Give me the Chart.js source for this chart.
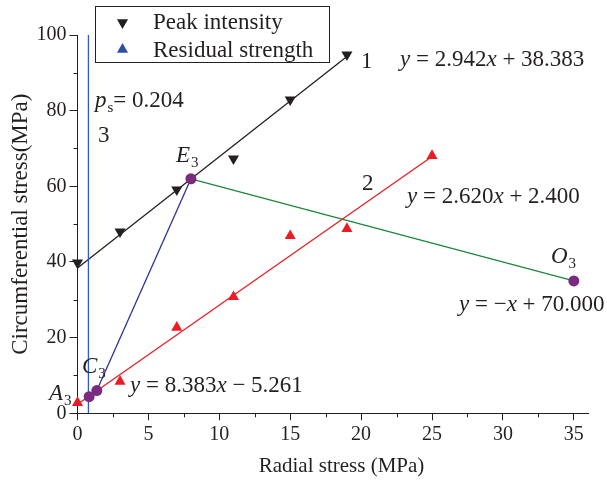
<!DOCTYPE html>
<html>
<head>
<meta charset="utf-8">
<script src="https://cdn.jsdelivr.net/npm/chart.js@4.4.0/dist/chart.umd.min.js"></script>
<style>
  html, body { margin: 0; padding: 0; background: #fff; }
  #wrap { width: 607px; height: 481px; }
</style>
</head>
<body>
<div id="wrap"><canvas id="chart" width="607" height="481"></canvas></div>
<script>
// ── data ──────────────────────────────────────────────────
const peakX = [0, 3, 7, 11, 15, 19];
const peakY = [39.8, 48.0, 59.1, 67.3, 82.9, 94.8];

const resX = [0, 3, 7, 11, 15, 19, 25];
const resY = [2.8, 8.4, 22.7, 30.8, 46.9, 48.8, 68.1];

const keyNames = ['A3', 'C3', 'E3', 'O3'];
const keyX = [0.82, 1.36, 8.0, 35.0];
const keyY = [4.4, 6.0, 62.0, 35.0];

// fitted / construction lines (end points)
const line1X = [0, 19],    line1Y = [38.4, 94.3];   // y = 2.942x + 38.383
const line2X = [0, 25],    line2Y = [2.4, 67.9];    // y = 2.620x + 2.400
const line3X = [1.36, 8],  line3Y = [6.0, 62.0];    // y = 8.383x - 5.261
const line4X = [8, 35],    line4Y = [62.0, 35.0];   // y = -x + 70.000
const psX = [0.77, 0.77],  psY = [0, 100];          // p_s = 0.204

const xTicks = [0, 5, 10, 15, 20, 25, 30, 35];
const xMinor = [2.5, 7.5, 12.5, 17.5, 22.5, 27.5, 32.5];
const yTicks = [0, 20, 40, 60, 80, 100];
const yMinor = [10, 30, 50, 70, 90];

const pts = (xs, ys) => xs.map((x, i) => ({ x, y: ys[i] }));

const INK = '#231f20';
const RED = '#ed1c24';
const PURPLE = '#7b2a82';
const SERIF = '"Liberation Serif", "Times New Roman", serif';

// ── text annotations (pixel anchors: left, baseline) ─────
const notes = [
  { x: 95,  y: 107, parts: [['p', 'i'], ['s', 'sub'], ['= 0.204', 'r']] },
  { x: 98,  y: 142, parts: [['3', 'r']] },
  { x: 176, y: 162, parts: [['E', 'i'], ['3', 'sub']] },
  { x: 361, y: 68,  parts: [['1', 'r']] },
  { x: 400, y: 66,  parts: [['y', 'i'], [' = 2.942', 'r'], ['x', 'i'], [' + 38.383', 'r']] },
  { x: 362, y: 190, parts: [['2', 'r']] },
  { x: 407, y: 203, parts: [['y', 'i'], [' = 2.620', 'r'], ['x', 'i'], [' + 2.400', 'r']] },
  { x: 551, y: 263, parts: [['O', 'i'], ['3', 'sub']] },
  { x: 459, y: 311, parts: [['y', 'i'], [' = \u2212', 'r'], ['x', 'i'], [' + 70.000', 'r']] },
  { x: 82,  y: 373, parts: [['C', 'i'], ['3', 'sub']] },
  { x: 49,  y: 400, parts: [['A', 'i'], ['3', 'sub']] },
  { x: 130, y: 392, parts: [['y', 'i'], [' = 8.383', 'r'], ['x', 'i'], [' \u2212 5.261', 'r']] },
];

function richText(ctx, x, y, parts) {
  parts.forEach(([t, k]) => {
    if (k === 'sub') {
      ctx.font = '15px ' + SERIF;
      ctx.fillText(t, x + 1, y + 5);
      x += ctx.measureText(t).width + 1;
    } else {
      ctx.font = (k === 'i' ? 'italic ' : '') + '23px ' + SERIF;
      ctx.fillText(t, x, y);
      x += ctx.measureText(t).width;
    }
  });
}

function triangle(ctx, x, y, r, down, color) {
  const s = down ? -1 : 1;
  ctx.beginPath();
  ctx.moveTo(x, y - s * r);
  ctx.lineTo(x + r * 0.866, y + s * r * 0.5);
  ctx.lineTo(x - r * 0.866, y + s * r * 0.5);
  ctx.closePath();
  ctx.fillStyle = color;
  ctx.fill();
}

const extras = {
  id: 'extras',
  afterDraw(chart) {
    const ctx = chart.ctx;
    const xs = chart.scales.x, ys = chart.scales.y;
    ctx.save();
    // minor ticks
    ctx.strokeStyle = INK;
    ctx.lineWidth = 1;
    ctx.beginPath();
    xMinor.forEach(v => {
      const px = Math.round(xs.getPixelForValue(v)) + 0.5;
      ctx.moveTo(px, xs.top); ctx.lineTo(px, xs.top + 4);
    });
    yMinor.forEach(v => {
      const py = Math.round(ys.getPixelForValue(v)) + 0.5;
      ctx.moveTo(ys.right, py); ctx.lineTo(ys.right - 4, py);
    });
    ctx.stroke();

    // x axis title (sits a little right of the plot centre in the original)
    ctx.fillStyle = INK;
    ctx.font = '21px ' + SERIF;
    ctx.textAlign = 'center';
    ctx.textBaseline = 'middle';
    ctx.fillText('Radial stress (MPa)', 341.5, 466);

    // annotations
    ctx.textBaseline = 'alphabetic';
    ctx.textAlign = 'left';
    notes.forEach(n => richText(ctx, n.x, n.y, n.parts));

    // legend
    ctx.fillStyle = '#fff';
    ctx.fillRect(95.5, 6.5, 234, 56);
    ctx.strokeStyle = INK;
    ctx.strokeRect(95.5, 6.5, 234, 56);
    triangle(ctx, 122.5, 22.5, 6.4, true, INK);
    triangle(ctx, 122.5, 49.5, 6.4, false, '#2e4ea6');
    ctx.fillStyle = INK;
    ctx.font = '23px ' + SERIF;
    ctx.fillText('Peak intensity', 153, 29);
    ctx.fillText('Residual strength', 153, 57);
    ctx.restore();
  }
};

const lineSet = (xs, ys, color) => ({
  data: pts(xs, ys), showLine: true, borderColor: color, borderWidth: 1.3,
  pointRadius: 0, fill: false, order: 3
});

new Chart(document.getElementById('chart'), {
  type: 'scatter',
  data: {
    datasets: [
      { data: pts(keyX, keyY), pointStyle: 'circle', pointRadius: 5.5,
        backgroundColor: PURPLE, borderColor: PURPLE, borderWidth: 0, clip: false, order: 0 },
      { data: pts(peakX, peakY), pointStyle: 'triangle', rotation: 180, pointRadius: 6.4,
        backgroundColor: INK, borderColor: INK, borderWidth: 0, clip: false, order: 1 },
      { data: pts(resX, resY), pointStyle: 'triangle', pointRadius: 6.4,
        backgroundColor: RED, borderColor: RED, borderWidth: 0, clip: false, order: 1 },
      lineSet(psX, psY, '#2c5bd0'),
      lineSet(line1X, line1Y, INK),
      lineSet(line2X, line2Y, RED),
      lineSet(line3X, line3Y, '#2b3591'),
      lineSet(line4X, line4Y, '#1a873a'),
    ]
  },
  options: {
    responsive: false,
    animation: false,
    layout: { padding: { top: 35, right: 19, left: 0, bottom: 0 } },
    plugins: { legend: { display: false }, tooltip: { enabled: false } },
    scales: {
      x: {
        type: 'linear', min: 0, max: 36,
        afterBuildTicks: s => { s.ticks = xTicks.map(v => ({ value: v })); },
        afterFit: s => { s.height = 67.7; },
        grid: { drawOnChartArea: false, drawTicks: true, tickLength: 7, color: INK },
        border: { display: true, color: INK, width: 1 },
        ticks: { color: INK, padding: 2, font: { family: SERIF, size: 20 } },
        title: { display: false }
      },
      y: {
        type: 'linear', min: 0, max: 100,
        afterBuildTicks: s => { s.ticks = yTicks.map(v => ({ value: v })); },
        afterFit: s => { s.width = 77.5; },
        grid: { drawOnChartArea: false, drawTicks: true, tickLength: 8, color: INK },
        border: { display: true, color: INK, width: 1 },
        ticks: { color: INK, padding: 3, font: { family: SERIF, size: 20 } },
        title: { display: true, text: 'Circumferential stress(MPa)', color: INK,
                 padding: { top: 7, bottom: 0 }, font: { family: SERIF, size: 23 } }
      }
    }
  },
  plugins: [extras]
});
</script>
</body>
</html>
